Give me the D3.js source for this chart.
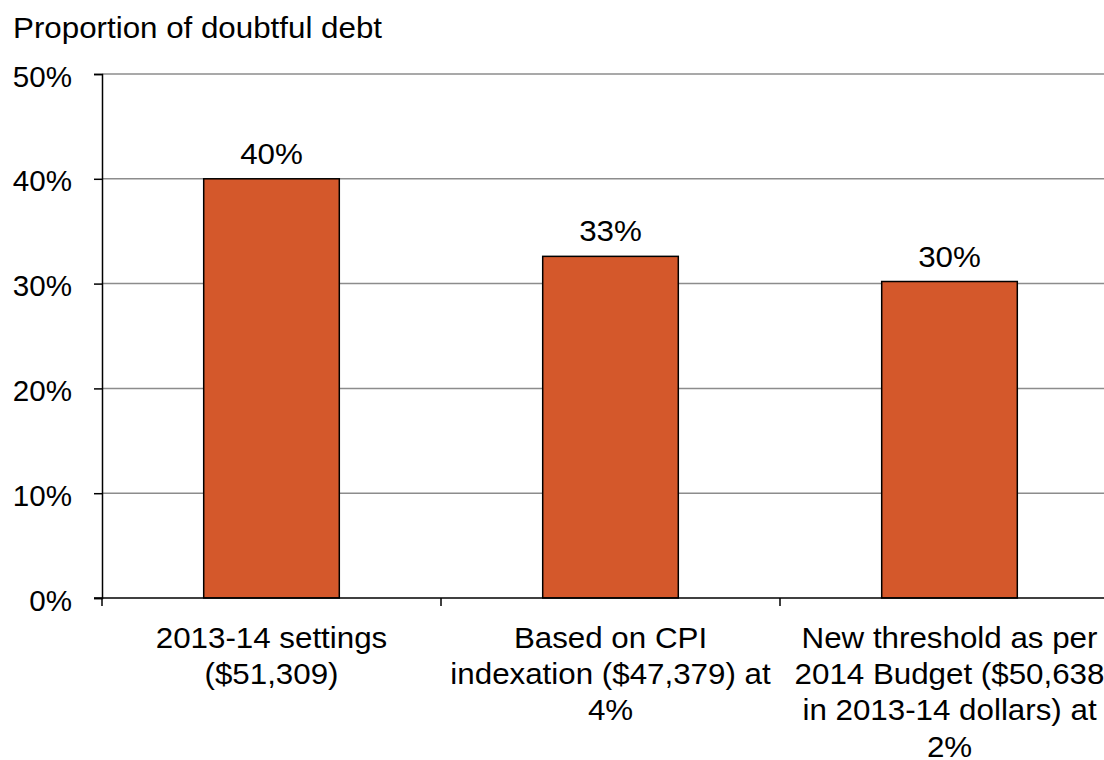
<!DOCTYPE html>
<html>
<head>
<meta charset="utf-8">
<script src="https://cdn.jsdelivr.net/npm/d3@7"></script>
<style>
  body { margin: 0; background: #fff; }
  text { font-family: "Liberation Sans", Arial, sans-serif; fill: #000; }
</style>
</head>
<body>
<div id="chart"></div>
<script>
// chart data
var categories = [
    ["2013-14 settings", "($51,309)"],
    ["Based on CPI", "indexation ($47,379) at", "4%"],
    ["New threshold as per", "2014 Budget ($50,638", "in 2013-14 dollars) at", "2%"]
];
var values = [40.0, 32.6, 30.2];
var yTicks = [0, 10, 20, 30, 40, 50];
var yTitle = "Proportion of doubtful debt";

var W = 1104, H = 760;
var margin = {top: 74, left: 102, bottom: 162},
    plotHeight = H - margin.top - margin.bottom,
    plotRight = 1119;
var stretch = 1.08; // source text is slightly wide

function wide(px, py) {
    return "translate(" + px + "," + py + ") scale(" + stretch + ",1)";
}

var svg = d3.select("#chart")
    .append("svg")
    .attr("width", W)
    .attr("height", H);

var x = d3.scaleBand()
    .domain(d3.range(categories.length))
    .range([margin.left, plotRight])
    .paddingInner(0.6)
    .paddingOuter(0.3);

var y = d3.scaleLinear()
    .domain([0, 50])
    .range([margin.top + plotHeight, margin.top]);

// gridlines
svg.append("g")
    .selectAll("line")
    .data(yTicks.filter(function(d) { return d > 0; }))
    .enter().append("line")
    .attr("x1", margin.left)
    .attr("x2", W)
    .attr("y1", function(d) { return y(d); })
    .attr("y2", function(d) { return y(d); })
    .attr("stroke", "#8c8c8c")
    .attr("stroke-width", 1.5);

// y axis
var yAxis = svg.append("g")
    .attr("transform", "translate(" + margin.left + ",0)")
    .call(d3.axisLeft(y).tickValues(yTicks).tickSize(8).tickPadding(30)
        .tickFormat(function(d) { return d + "%"; }));
yAxis.select(".domain").attr("stroke", "#000").attr("stroke-width", 1.5);
yAxis.selectAll(".tick line").attr("stroke", "#000").attr("stroke-width", 1.5);
yAxis.selectAll(".tick text")
    .style("font-size", "29px")
    .attr("x", 0)
    .attr("dy", "0.42em")
    .attr("transform", "translate(-30,0) scale(1.02,1)");

// bars
svg.selectAll(".bar")
    .data(values)
    .enter().append("rect")
    .attr("class", "bar")
    .attr("x", function(d, i) { return x(i); })
    .attr("y", function(d) { return y(d); })
    .attr("width", x.bandwidth())
    .attr("height", function(d) { return y(0) - y(d); })
    .attr("fill", "#d4582b")
    .attr("stroke", "#000")
    .attr("stroke-width", 1.5);

// value labels
svg.selectAll(".val")
    .data(values)
    .enter().append("text")
    .attr("class", "val")
    .attr("transform", function(d, i) { return wide(x(i) + x.bandwidth() / 2, y(d) - 15); })
    .attr("text-anchor", "middle")
    .style("font-size", "29px")
    .text(function(d) { return Math.round(d) + "%"; });

// x axis line and category boundary ticks
var step = x.step();
var bounds = d3.range(categories.length + 1).map(function(i) {
    return i < categories.length ? x(i) - step * x.paddingInner() / 2 : plotRight;
});
svg.append("line")
    .attr("x1", margin.left - 8)
    .attr("x2", W)
    .attr("y1", y(0))
    .attr("y2", y(0))
    .attr("stroke", "#000")
    .attr("stroke-width", 1.5);
svg.selectAll(".xtick")
    .data(bounds)
    .enter().append("line")
    .attr("class", "xtick")
    .attr("x1", function(d) { return d; })
    .attr("x2", function(d) { return d; })
    .attr("y1", y(0))
    .attr("y2", y(0) + 8)
    .attr("stroke", "#000")
    .attr("stroke-width", 1.5);

// category labels
var catLabels = svg.selectAll(".cat")
    .data(categories)
    .enter().append("text")
    .attr("class", "cat")
    .attr("transform", function(d, i) { return wide(x(i) + x.bandwidth() / 2, 0); })
    .attr("text-anchor", "middle")
    .style("font-size", "29px");
catLabels.selectAll("tspan")
    .data(function(d) { return d; })
    .enter().append("tspan")
    .attr("x", 0)
    .attr("y", function(d, j) { return y(0) + 50 + j * 36.2; })
    .text(function(d) { return d; });

// title
svg.append("text")
    .attr("transform", wide(13, 38))
    .style("font-size", "29px")
    .text(yTitle);
</script>
</body>
</html>
